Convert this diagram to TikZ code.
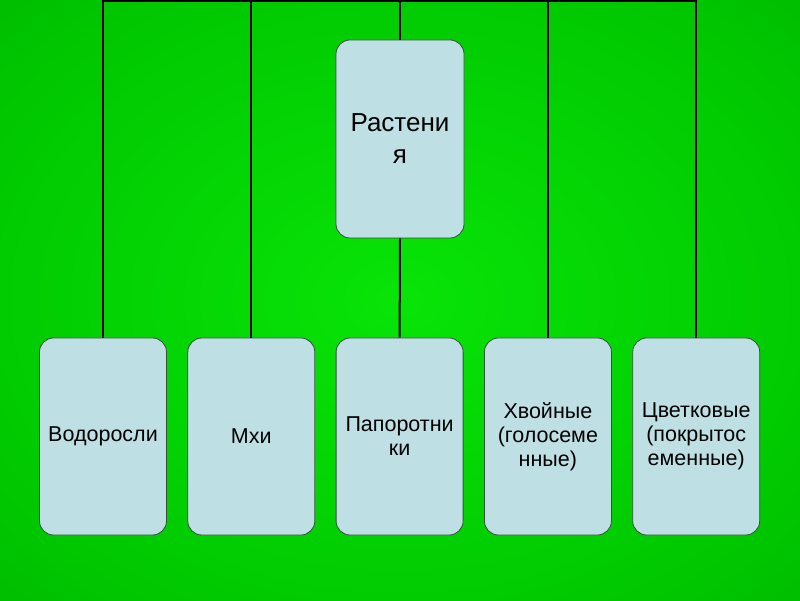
\documentclass[tikz,border=0pt]{standalone}
\usepackage{fontspec}
\setmainfont{Liberation Sans}
\usetikzlibrary{positioning}

\definecolor{boxfill}{RGB}{190,224,228}
\definecolor{boxline}{RGB}{50,80,60}
\definecolor{bgin}{RGB}{8,228,8}
\definecolor{bgmid}{RGB}{0,198,0}
\definecolor{bgout}{RGB}{0,130,0}
\pgfdeclareradialshading{greenbg}{\pgfpoint{0bp}{0bp}}{%
  color(0bp)=(bgin); color(30bp)=(bgmid); color(72bp)=(bgout)}

\begin{document}
\begin{tikzpicture}[
    x=1pt, y=1pt,
    block/.style={
        draw=boxline, fill=boxfill, line width=0.8pt,
        rounded corners=14pt, align=center, inner sep=0pt,
        minimum width=127pt, minimum height=197pt,
        font=\fontsize{21.5}{24}\selectfont
    },
    link/.style={black, line width=2pt}
]

% Background
\shade[shading=greenbg] (0,0) rectangle (800,600);
\useasboundingbox (0,0) rectangle (800,600);

% Root box
\node[block, minimum width=128pt, minimum height=198pt,
      font=\fontsize{26}{32}\selectfont] (plants) at (400,461) {Растени\\я};

% Groups, placed in a row
\node[block] (algae) at (103,163.5) {Водоросли};
\node[block, right=20.5pt of algae] (mosses) {Мхи};
\node[block, right=20.5pt of mosses] (ferns) {Папоротни\\ки};
\node[block, right=20.5pt of ferns] (conifers) {Хвойные\\(голосеме\\нные)};
\node[block, right=20.5pt of conifers] (flowering) {Цветковые\\(покрытос\\еменные)};

% Bus line along the top edge
\coordinate (bus) at (400,599);
\draw[link] (algae.north) -- (algae.north |- bus)
    -- (flowering.north |- bus) -- (flowering.north);
\foreach \n in {mosses,conifers,plants} {
    \draw[link] (\n.north) -- (\n.north |- bus);
}
\draw[link] (plants.south) -- (ferns.north);

\end{tikzpicture}
\end{document}
